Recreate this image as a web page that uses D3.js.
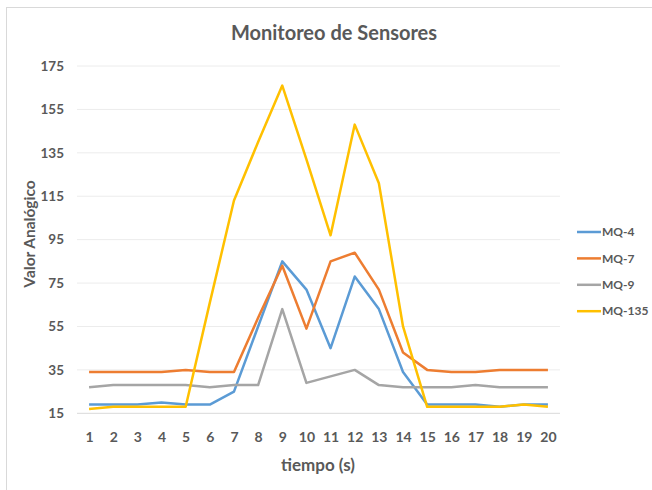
<!DOCTYPE html>
<html lang="es">
<head>
<meta charset="UTF-8">
<title>Monitoreo de Sensores</title>
<script src="https://d3js.org/d3.v7.min.js"></script>
<style>
  body { margin: 0; background: #fff; }
  text { font-family: Lato, "Open Sans", sans-serif; fill: #595959; }
</style>
</head>
<body>
<svg width="652" height="490"></svg>
<script>
// datos
const tiempos = d3.range(1, 21);
const series = ["MQ-4", "MQ-7", "MQ-9", "MQ-135"];
const mq4   = [19, 19, 19, 20, 19, 19, 25, 55, 85, 72, 45, 78, 63, 34, 19, 19, 19, 18, 19, 19];
const mq7   = [34, 34, 34, 34, 35, 34, 34, 59, 83, 54, 85, 89, 72, 43, 35, 34, 34, 35, 35, 35];
const mq9   = [27, 28, 28, 28, 28, 27, 28, 28, 63, 29, 32, 35, 28, 27, 27, 27, 28, 27, 27, 27];
const mq135 = [17, 18, 18, 18, 18, 66, 113, 140, 166, 132, 97, 148, 121, 55, 18, 18, 18, 18, 19, 18];
const yTicks = [15, 35, 55, 75, 95, 115, 135, 155, 175];
const colores = ["#5B9BD5", "#ED7D31", "#A5A5A5", "#FFC000"];

const valores = [mq4, mq7, mq9, mq135];
const data = series.map((s, i) => ({
  name: s,
  values: tiempos.map((t, j) => ({ t: t, v: valores[i][j] }))
}));

const svg = d3.select("svg");

// marco del área del gráfico
svg.append("rect")
  .attr("x", 6.5).attr("y", 7.5)
  .attr("width", 700).attr("height", 600)
  .attr("fill", "none")
  .attr("stroke", "#d9d9d9");

const x = d3.scalePoint()
  .domain(tiempos)
  .range([77, 560])
  .padding(0.5);

const y = d3.scaleLinear()
  .domain([15, 175])
  .range([413.3, 66]);

const color = d3.scaleOrdinal().domain(series).range(colores);

// grid
svg.append("g")
  .selectAll("line")
  .data(yTicks)
  .join("line")
  .attr("x1", 77).attr("x2", 560)
  .attr("y1", d => y(d)).attr("y2", d => y(d))
  .attr("stroke", d => d === 15 ? "#d9d9d9" : "#ececec")
  .attr("stroke-width", 1);

// eje Y
const yAxis = svg.append("g")
  .attr("transform", "translate(64,0)")
  .call(d3.axisLeft(y).tickValues(yTicks).tickSize(0).tickPadding(0));
yAxis.select(".domain").remove();
yAxis.selectAll("text")
  .attr("font-size", 13.5)
  .attr("font-weight", "bold")
  .attr("fill", "#595959")
  .style("font-family", "Lato, sans-serif");

// eje X
const xAxis = svg.append("g")
  .attr("transform", `translate(0,${y(15)})`)
  .call(d3.axisBottom(x).tickSize(0).tickPadding(19));
xAxis.select(".domain").remove();
xAxis.selectAll("text")
  .attr("font-size", 14)
  .attr("font-weight", "bold")
  .attr("fill", "#595959")
  .style("font-family", "Lato, sans-serif");

// líneas
const line = d3.line()
  .x(d => x(d.t))
  .y(d => y(d.v));

svg.append("g")
  .selectAll("path")
  .data(data)
  .join("path")
  .attr("fill", "none")
  .attr("stroke", d => color(d.name))
  .attr("stroke-width", 2.5)
  .attr("stroke-linejoin", "round")
  .attr("d", d => line(d.values));

// título
svg.append("text")
  .attr("x", 334)
  .attr("y", 40)
  .attr("text-anchor", "middle")
  .attr("font-size", 20)
  .attr("font-weight", "bold")
  .text("Monitoreo de Sensores");

// títulos de ejes
svg.append("text")
  .attr("x", 318)
  .attr("y", 471)
  .attr("text-anchor", "middle")
  .attr("font-size", 17)
  .attr("font-weight", "bold")
  .text("tiempo (s)");

svg.append("text")
  .attr("transform", "rotate(-90)")
  .attr("x", -234)
  .attr("y", 35)
  .attr("text-anchor", "middle")
  .attr("font-size", 15.5)
  .attr("font-weight", "bold")
  .text("Valor Analógico");

// leyenda
const legend = svg.append("g")
  .attr("transform", "translate(577,232)");

series.forEach((s, i) => {
  const row = legend.append("g").attr("transform", `translate(0,${i * 26.4})`);
  row.append("line")
    .attr("x1", 0).attr("x2", 24)
    .attr("stroke", color(s))
    .attr("stroke-width", 2.5);
  row.append("text")
    .attr("x", 25)
    .attr("y", 0)
    .attr("dy", "0.35em")
    .attr("font-size", 12)
    .attr("font-weight", "bold")
    .text(s);
});
</script>
</body>
</html>
